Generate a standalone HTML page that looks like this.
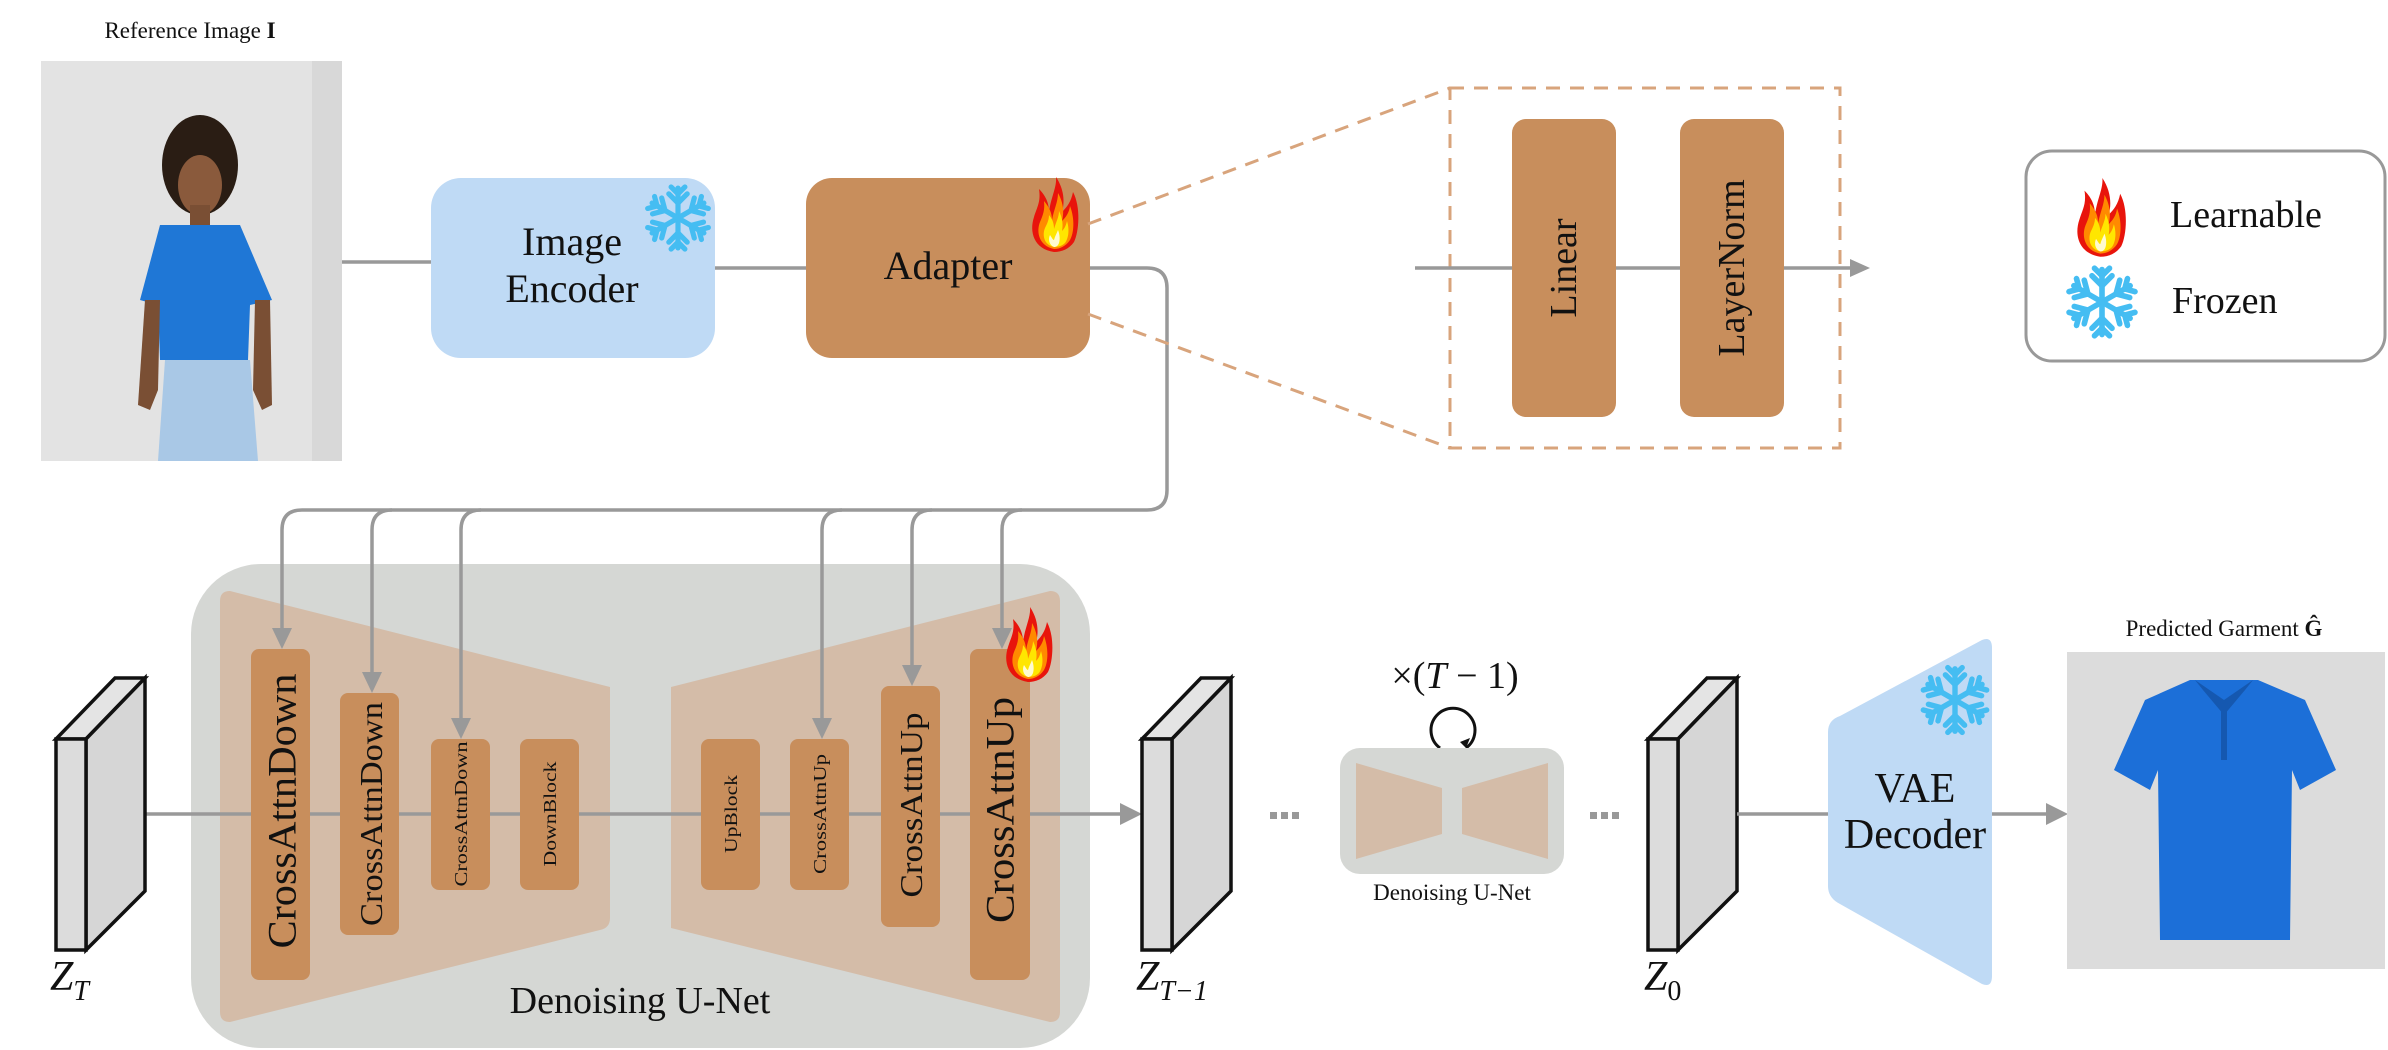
<!DOCTYPE html>
<html><head><meta charset="utf-8"><style>
html,body{margin:0;padding:0;background:#fff;}
svg{display:block;}
svg text{font-family:"Liberation Serif","DejaVu Serif",serif !important;fill:#111;}
</style></head><body>
<svg width="2388" height="1050" viewBox="0 0 2388 1050" xmlns="http://www.w3.org/2000/svg" font-family="Liberation Serif, serif">
<defs>
<g id="flake">
 <g stroke="#45bdf2" stroke-width="4.5" stroke-linecap="round" fill="none">
  <g id="arm"><line x1="0" y1="0" x2="0" y2="-26"/><polyline points="-8,-21 0,-13 8,-21"/><polyline points="-6,-27 0,-21 6,-27"/></g>
  <use href="#arm" transform="rotate(60)"/><use href="#arm" transform="rotate(120)"/><use href="#arm" transform="rotate(180)"/><use href="#arm" transform="rotate(240)"/><use href="#arm" transform="rotate(300)"/>
 </g>
</g>
<g id="fire">
 <path d="M25,75 C5,72 0,55 5,40 C8,30 12,25 10,12 C18,20 20,28 20,35 C22,20 28,10 27,0 C35,12 36,25 33,35 C38,30 42,25 44,15 C52,30 50,55 45,65 C40,72 33,75 25,75Z" fill="#e8140c"/>
 <path d="M25,72 C10,69 7,55 11,45 C14,38 16,33 15,24 C21,31 23,37 23,43 C25,32 29,25 29,16 C35,27 35,36 33,44 C37,40 40,36 41,29 C46,42 45,56 41,63 C37,69 31,72 25,72Z" fill="#ff8a00"/>
 <path d="M25,70 C15,68 13,58 16,51 C18,47 20,43 20,38 C24,43 25,47 25,52 C27,45 30,40 30,34 C34,42 34,49 33,54 C36,51 37,48 38,44 C41,54 39,62 36,66 C33,69 29,70 25,70Z" fill="#ffe600"/>
 <path d="M25,70 C20,68 19,62 21,58 C23,61 24,63 25,63 C26,59 28,56 29,53 C31,58 31,63 30,66 C29,69 27,70 25,70Z" fill="#fffbd0"/>
</g>
</defs>

<!-- Reference image -->
<text x="190" y="38" font-size="23" text-anchor="middle">Reference Image <tspan font-weight="bold">I</tspan></text>
<rect x="41" y="61" width="301" height="400" fill="#e3e3e3"/>
<rect x="312" y="61" width="30" height="400" fill="#d8d8d8"/>
<ellipse cx="200" cy="165" rx="38" ry="50" fill="#2a1d14"/>
<ellipse cx="200" cy="185" rx="22" ry="30" fill="#8a5a3c"/>
<rect x="190" y="205" width="20" height="20" fill="#7a4f34"/>
<path d="M160,225 L240,225 L272,300 L250,305 L248,360 L160,360 L158,305 L140,300 Z" fill="#1f77d6"/>
<path d="M145,300 L160,300 L158,390 L150,410 L138,405 Z" fill="#7a4f34"/>
<path d="M255,300 L270,300 L272,405 L262,410 L253,390 Z" fill="#7a4f34"/>
<path d="M165,360 L250,360 L258,461 L158,461 Z" fill="#a9c8e6"/>

<!-- Big U-Net background -->
<rect x="191" y="564" width="899" height="484" rx="70" fill="#d5d7d4"/>
<path d="M230,591 L610,687 L610,918 Q610,928 600,930 L230,1022 Q220,1022 220,1012 L220,601 Q220,591 230,591 Z" fill="#d4bca8"/>
<path d="M1050,591 L671,687 L671,928 L1050,1022 Q1060,1022 1060,1012 L1060,601 Q1060,591 1050,591 Z" fill="#d4bca8"/>

<!-- connectors top -->
<g stroke="#999" stroke-width="3.5" fill="none">
 <line x1="342" y1="262" x2="431" y2="262"/>
 <line x1="715" y1="268" x2="806" y2="268"/>
 <path d="M1090,268 H1147 Q1167,268 1167,288 V490 Q1167,510 1147,510 H302 Q282,510 282,530 V632"/>
 <path d="M392,510 Q372,510 372,530 V676"/>
 <path d="M481,510 Q461,510 461,530 V722"/>
 <path d="M842,510 Q822,510 822,530 V722"/>
 <path d="M932,510 Q912,510 912,530 V669"/>
 <path d="M1022,510 Q1002,510 1002,530 V632"/>
</g>

<!-- Image encoder -->
<rect x="431" y="178" width="284" height="180" rx="30" fill="#bfdaf5"/>
<text x="572" y="255" font-size="40" text-anchor="middle">Image</text>
<text x="572" y="302" font-size="40" text-anchor="middle">Encoder</text>
<use href="#flake" transform="translate(678,218) scale(1.15)"/>

<!-- Adapter -->
<rect x="806" y="178" width="284" height="180" rx="26" fill="#c88e5c"/>
<text x="948" y="279" font-size="40" text-anchor="middle">Adapter</text>
<use href="#fire" transform="translate(1029,177)"/>

<!-- zoom dashed -->
<g stroke="#d8a47c" stroke-width="3" stroke-dasharray="14,10" fill="none">
 <line x1="1088" y1="224" x2="1450" y2="88"/>
 <line x1="1088" y1="314" x2="1450" y2="448"/>
 <rect x="1450" y="88" width="390" height="360"/>
</g>
<line x1="1415" y1="268" x2="1852" y2="268" stroke="#999" stroke-width="3.5"/>
<polygon points="1870,268 1850,259 1850,277" fill="#999"/>
<rect x="1512" y="119" width="104" height="298" rx="14" fill="#c88e5c"/>
<rect x="1680" y="119" width="104" height="298" rx="14" fill="#c88e5c"/>
<text transform="translate(1564,268) rotate(-90)" font-size="38" text-anchor="middle" dominant-baseline="central">Linear</text>
<text transform="translate(1732,268) rotate(-90)" font-size="38" text-anchor="middle" dominant-baseline="central">LayerNorm</text>

<!-- legend -->
<rect x="2026" y="151" width="359" height="210" rx="26" fill="#fff" stroke="#999" stroke-width="3"/>
<use href="#fire" transform="translate(2074,178) scale(1.05)"/>
<text x="2170" y="227" font-size="38">Learnable</text>
<use href="#flake" transform="translate(2102,302) scale(1.25)"/>
<text x="2172" y="313" font-size="38">Frozen</text>

<!-- U-Net contents -->
<line x1="145" y1="814" x2="1122" y2="814" stroke="#999" stroke-width="3.5"/>
<polygon points="1142,814 1120,803 1120,825" fill="#999"/>
<g fill="#c88e5c">
 <rect x="251" y="649" width="59" height="331" rx="8"/>
 <rect x="340" y="693" width="59" height="242" rx="8"/>
 <rect x="431" y="739" width="59" height="151" rx="8"/>
 <rect x="520" y="739" width="59" height="151" rx="8"/>
 <rect x="701" y="739" width="59" height="151" rx="8"/>
 <rect x="790" y="739" width="59" height="151" rx="8"/>
 <rect x="881" y="686" width="59" height="241" rx="8"/>
 <rect x="970" y="649" width="60" height="331" rx="8"/>
</g>
<g fill="#999">
 <polygon points="282,649 272,628 292,628"/>
 <polygon points="372,693 362,672 382,672"/>
 <polygon points="461,739 451,718 471,718"/>
 <polygon points="822,739 812,718 832,718"/>
 <polygon points="912,686 902,665 922,665"/>
 <polygon points="1002,649 992,628 1012,628"/>
</g>
<g text-anchor="middle" dominant-baseline="central">
 <text transform="translate(282,811) rotate(-90)" font-size="40" textLength="275" lengthAdjust="spacingAndGlyphs">CrossAttnDown</text>
 <text transform="translate(371,814) rotate(-90)" font-size="32" textLength="224" lengthAdjust="spacingAndGlyphs">CrossAttnDown</text>
 <text transform="translate(461,814) rotate(-90)" font-size="18" textLength="145" lengthAdjust="spacingAndGlyphs">CrossAttnDown</text>
 <text transform="translate(550,814) rotate(-90)" font-size="18" textLength="105" lengthAdjust="spacingAndGlyphs">DownBlock</text>
 <text transform="translate(731,814) rotate(-90)" font-size="18" textLength="78" lengthAdjust="spacingAndGlyphs">UpBlock</text>
 <text transform="translate(820,814) rotate(-90)" font-size="18" textLength="120" lengthAdjust="spacingAndGlyphs">CrossAttnUp</text>
 <text transform="translate(911,805) rotate(-90)" font-size="32" textLength="185" lengthAdjust="spacingAndGlyphs">CrossAttnUp</text>
 <text transform="translate(1000,810) rotate(-90)" font-size="40" textLength="226" lengthAdjust="spacingAndGlyphs">CrossAttnUp</text>
</g>
<use href="#fire" transform="translate(1003,607)"/>
<text x="640" y="1013" font-size="38" text-anchor="middle">Denoising U-Net</text>

<!-- latent boxes -->
<g stroke="#111" stroke-width="3.5" stroke-linejoin="miter">
 <polygon points="56,739 86,739 145,678 115,678" fill="#e4e4e4"/>
 <polygon points="86,739 145,678 145,891 86,950" fill="#d6d6d6"/>
 <rect x="56" y="739" width="30" height="211" fill="#dcdcdc"/>
 <polygon points="1142,739 1172,739 1231,678 1201,678" fill="#e4e4e4"/>
 <polygon points="1172,739 1231,678 1231,891 1172,950" fill="#d6d6d6"/>
 <rect x="1142" y="739" width="30" height="211" fill="#dcdcdc"/>
 <polygon points="1648,739 1678,739 1737,678 1707,678" fill="#e4e4e4"/>
 <polygon points="1678,739 1737,678 1737,891 1678,950" fill="#d6d6d6"/>
 <rect x="1648" y="739" width="30" height="211" fill="#dcdcdc"/>
</g>
<text x="50" y="990" font-size="42" font-style="italic">Z<tspan font-size="28" dy="10">T</tspan></text>
<text x="1136" y="990" font-size="42" font-style="italic">Z<tspan font-size="28" dy="10">T−1</tspan></text>
<text x="1644" y="990" font-size="42" font-style="italic">Z<tspan font-size="28" dy="10" font-style="normal">0</tspan></text>

<!-- dots -->
<g fill="#999">
 <rect x="1270" y="812" width="7" height="7"/><rect x="1281" y="812" width="7" height="7"/><rect x="1292" y="812" width="7" height="7"/>
 <rect x="1590" y="812" width="7" height="7"/><rect x="1601" y="812" width="7" height="7"/><rect x="1612" y="812" width="7" height="7"/>
</g>

<!-- small unet -->
<text x="1455" y="688" font-size="38" text-anchor="middle">×(<tspan font-style="italic">T</tspan> − 1)</text>
<path d="M1440,748 A22,22 0 1 1 1466,748" fill="none" stroke="#111" stroke-width="3"/>
<polygon points="1466,748 1470,738 1460,742" fill="#111"/>
<rect x="1340" y="748" width="224" height="126" rx="20" fill="#d5d7d4"/>
<path d="M1356,763 L1442,788 L1442,834 L1356,859 Z" fill="#d4bca8"/>
<path d="M1548,763 L1462,788 L1462,834 L1548,859 Z" fill="#d4bca8"/>
<text x="1452" y="900" font-size="23" text-anchor="middle">Denoising U-Net</text>

<!-- VAE -->
<line x1="1737" y1="814" x2="1830" y2="814" stroke="#999" stroke-width="3.5"/>
<path d="M1840,716 L1982,640 Q1992,636 1992,648 L1992,976 Q1992,988 1982,984 L1840,904 Q1828,898 1828,886 L1828,732 Q1828,720 1840,716 Z" fill="#bfdaf5"/>
<text x="1915" y="802" font-size="42" text-anchor="middle">VAE</text>
<text x="1915" y="848" font-size="42" text-anchor="middle">Decoder</text>
<use href="#flake" transform="translate(1955,700) scale(1.2)"/>
<line x1="1992" y1="814" x2="2048" y2="814" stroke="#999" stroke-width="3.5"/>
<polygon points="2068,814 2046,803 2046,825" fill="#999"/>

<!-- garment -->
<text x="2224" y="636" font-size="23" text-anchor="middle">Predicted Garment <tspan font-weight="bold">Ĝ</tspan></text>
<rect x="2067" y="652" width="318" height="317" fill="#dcdcdc"/>
<path d="M2190,680 L2258,680 L2305,700 L2336,770 L2300,790 L2292,770 L2290,940 L2160,940 L2158,770 L2150,790 L2114,770 L2145,700 Z" fill="#1c6fd8"/>
<path d="M2195,680 L2224,700 L2253,680 L2245,690 L2224,715 L2203,690 Z" fill="#1558b0"/>
<rect x="2221" y="705" width="6" height="55" fill="#1558b0"/>
</svg>
</body></html>
